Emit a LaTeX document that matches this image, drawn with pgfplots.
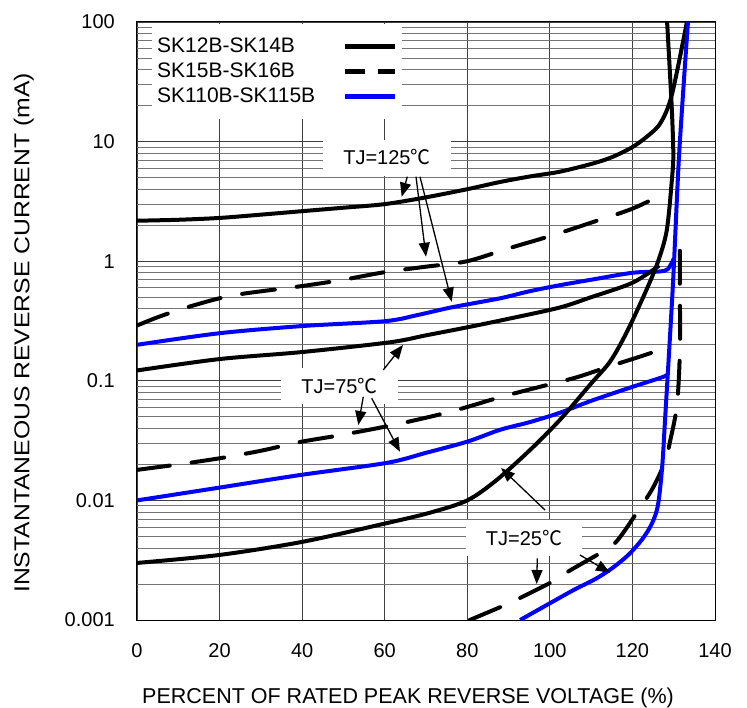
\documentclass[border=0pt]{standalone}
\usepackage{fontspec}
\setmainfont{Liberation Sans}
\newfontfamily\ylabfont[FakeStretch=1.15]{Liberation Sans}
\newfontfamily\cjk{Noto Sans CJK SC}
\usepackage{pgfplots}
\pgfplotsset{compat=1.18}
\usetikzlibrary{arrows.meta}

\newcommand{\degC}{{\cjk ℃}}

\begin{document}
\begin{tikzpicture}
\path[use as bounding box] (-137bp,-88bp) rectangle (610bp,620bp);
\begin{axis}[
  scale only axis, width=578bp, height=598bp,
  at={(0,0)}, anchor=south west,
  xmin=0, xmax=140, ymin=0.001, ymax=100, ymode=log,
  xtick={0,20,...,140}, xticklabels={0,20,40,60,80,100,120,140},
  ytick={0.001,0.01,0.1,1,10,100}, yticklabels={0.001,0.01,0.1,1,10,100},
  minor ytick={0.002,0.003,0.004,0.005,0.006,0.007,0.008,0.009,
               0.02,0.03,0.04,0.05,0.06,0.07,0.08,0.09,
               0.2,0.3,0.4,0.5,0.6,0.7,0.8,0.9,
               2,3,4,5,6,7,8,9,20,30,40,50,60,70,80,90},
  xmajorgrids, ymajorgrids, yminorgrids,
  major grid style={line width=0.8bp, black!75},
  minor grid style={line width=0.8bp, black!55},
  major tick length=0pt, minor tick length=0pt,
  axis line style={line width=1bp},
  tick label style={font=\fontsize{20bp}{23bp}\selectfont, inner sep=0pt},
  xticklabel style={yshift=-23bp},
  yticklabel style={xshift=-22bp},
  xlabel={PERCENT OF RATED PEAK REVERSE VOLTAGE (\%)},
  ylabel={\ylabfont INSTANTANEOUS REVERSE CURRENT (mA)},
  label style={font=\fontsize{21.5bp}{25bp}\selectfont, inner sep=0pt},
  x label style={at={(axis description cs:0.4689,-0.1388)}, anchor=base},
  y label style={at={(axis description cs:-0.186,0.48)}, anchor=base},
  legend plot pos=right,
  legend image code/.code={\draw[#1] (0bp,0bp) -- (50bp,0bp);},
  legend style={at={(axis description cs:0.026,0.9967)}, anchor=north west,
    draw=none, fill=white, inner xsep=4bp, inner ysep=10bp,
    font=\fontsize{21bp}{25bp}\selectfont, column sep=27bp,
    nodes={inner sep=1bp, text height=17bp, text depth=6bp}},
  legend cell align=left,
]
\addlegendimage{black, line width=4.5bp}
\addlegendentry{SK12B-SK14B}
\addlegendimage{black, line width=4.5bp, dash pattern=on 20bp off 13bp}
\addlegendentry{SK15B-SK16B}
\addlegendimage{blue, line width=4.5bp}
\addlegendentry{SK110B-SK115B}

% TJ = 125
\addplot[forget plot, black, line width=4bp, smooth, tension=0.5] coordinates {
(0,2.18) (10,2.22) (20,2.3) (30,2.45) (40,2.62) (50,2.8) (60,3.0) (70,3.42)
(80,4.0) (88,4.6) (95,5.1) (102.4,5.6) (110,6.5) (115,7.4) (120,9.0)
(123.5,11) (126.3,13.5) (128.2,17.8) (129.6,25) (131.2,45) (133.2,100)};
\addplot[forget plot, black, line width=4bp, dash pattern=on 33bp off 22bp, line cap=round, smooth, tension=0.5] coordinates {
(0,0.29) (5,0.34) (10,0.39) (15,0.44) (20,0.49) (25,0.53) (30,0.56) (40,0.62)
(50,0.70) (60,0.81) (70,0.90) (80,1.0) (90,1.28) (100,1.62) (110,2.1)
(120,2.75) (127.8,3.7)};
\addplot[forget plot, blue, line width=4bp, smooth, tension=0.5] coordinates {
(0,0.2) (20,0.25) (40,0.287) (60,0.315) (68,0.355) (76,0.41) (88,0.49)
(95,0.56) (102.4,0.63) (110,0.7) (120,0.8) (126.5,0.82) (128.6,0.86) (130,1.05)};

% TJ = 75
\addplot[forget plot, black, line width=4bp, smooth, tension=0.5] coordinates {
(0,0.122) (20,0.152) (40,0.174) (61.3,0.21) (70,0.24) (80,0.28) (90,0.33)
(102.4,0.41) (110,0.5) (120,0.66) (126.5,0.92)};
\addplot[forget plot, black, line width=4bp, dash pattern=on 33bp off 22bp, line cap=round, smooth, tension=0.5] coordinates {
(0,0.018) (10,0.02) (20,0.0225) (30,0.026) (39.5,0.0308) (49,0.035)
(62.5,0.043) (75.8,0.055) (88,0.073) (97,0.088) (106.5,0.107)
(115.3,0.135) (122,0.16) (128.4,0.19)};
\addplot[forget plot, blue, line width=4bp, smooth, tension=0.5] coordinates {
(0,0.01) (20,0.0128) (39.5,0.0163) (60.5,0.0206) (70,0.025) (80,0.031)
(88,0.039) (95,0.045) (102.4,0.054) (110,0.068) (120,0.089) (127.5,0.108)
(128.6,0.115)};

% TJ = 25
\addplot[forget plot, black, line width=4bp, smooth, tension=0.5] coordinates {
(0,0.003) (20,0.0035) (40,0.0045) (60,0.0064) (71,0.0079) (80,0.01)
(87,0.0147) (95,0.026) (102.4,0.047) (110,0.095) (114.6,0.145)
(118.5,0.25) (122.6,0.5) (126,0.95) (128.3,1.8) (129.6,5) (129.9,8) (129.5,20) (128.4,100)};
\addplot[forget plot, black, line width=4bp, dash pattern=on 33bp off 22bp, line cap=round, smooth, tension=0.5] coordinates {
(80.6,0.001) (88.4,0.0013) (92.8,0.00153) (100.7,0.0021) (104.9,0.0026)
(112.6,0.0037) (116.3,0.0046) (121.5,0.0083) (125,0.0128) (127.9,0.021)
(129.1,0.031) (130.8,0.063) (131.5,0.18) (131.5,0.55) (131.5,1.7)};
\addplot[forget plot, blue, line width=4bp, smooth, tension=0.5] coordinates {
(92.8,0.001) (100,0.00138) (106,0.0018) (111,0.0022) (115,0.0027)
(119,0.0035) (122.5,0.0048) (124.8,0.0065) (126.2,0.0092) (127.2,0.019)
(127.9,0.047) (129.8,0.63) (131.3,7.7) (133.45,100)};

% annotations
\begin{scope}[every node/.style={fill=white, inner xsep=20bp, inner ysep=9bp,
   text height=16bp, text depth=2bp, anchor=base,
   font=\fontsize{20bp}{24bp}\selectfont}]
\node at (axis description cs:0.4325,0.7609) {TJ=125\degC};
\node at (axis description cs:0.3503,0.3796) {TJ=75\degC};
\node at (axis description cs:0.6696,0.1254) {TJ=25\degC};
\end{scope}
\begin{scope}[line width=1.3bp, -{Triangle[length=14bp,width=11bp]}]
\draw (axis description cs:0.4677,0.7413) -- (axis description cs:0.4580,0.7079);
\draw (axis description cs:0.4827,0.7413) -- (axis description cs:0.5000,0.6075);
\draw (axis description cs:0.4896,0.7413) -- (axis description cs:0.5445,0.5323);
\draw (axis description cs:0.4261,0.4181) -- (axis description cs:0.4602,0.4599);
\draw (axis description cs:0.3915,0.3734) -- (axis description cs:0.3829,0.3261);
\draw (axis description cs:0.4061,0.3707) -- (axis description cs:0.4550,0.2814);
\draw (axis description cs:0.6926,0.1032) -- (axis description cs:0.6915,0.0602);
\draw (axis description cs:0.7664,0.1087) -- (axis description cs:0.8183,0.0791);
\draw (axis description cs:0.7059,0.1839) -- (axis description cs:0.6298,0.2542);
\end{scope}
\end{axis}
\end{tikzpicture}
\end{document}
